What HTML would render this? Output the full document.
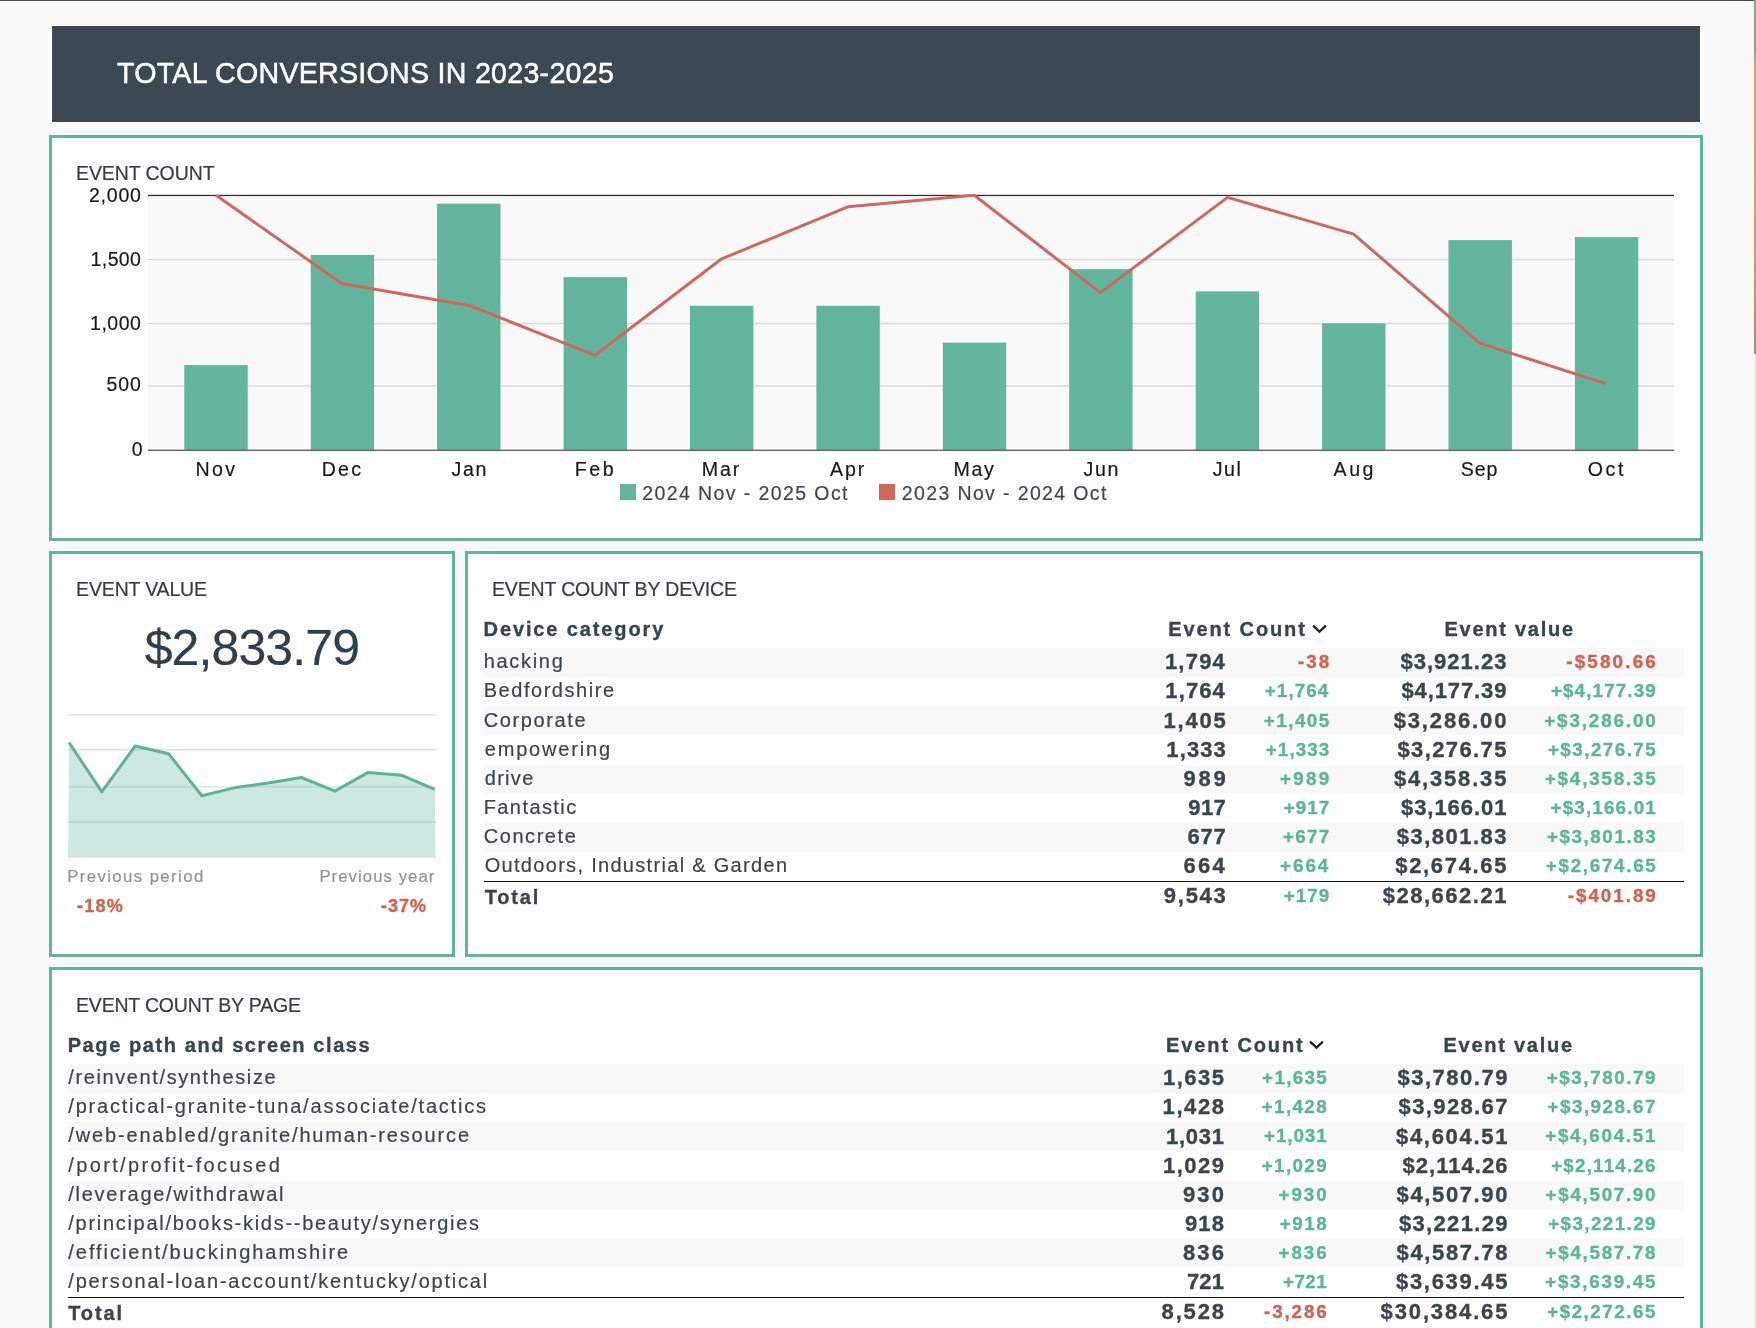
<!DOCTYPE html>
<html><head><meta charset="utf-8"><title>Total conversions dashboard</title>
<style>
html,body{margin:0;padding:0;}
body{width:1756px;height:1328px;overflow:hidden;background:#f9f9f9;position:relative;font-family:'Liberation Sans',sans-serif;}
.t{position:absolute;white-space:nowrap;}
#tx{position:absolute;left:0;top:0;width:1756px;height:1328px;will-change:transform;}
.box{position:absolute;box-sizing:border-box;border:3px solid #5db59a;background:#fff;box-shadow:0 0 0 1px #fff;}
.band{position:absolute;background:#f8f8f8;}
svg{position:absolute;left:0;top:0;}
</style></head><body>
<div style="position:absolute;left:0;top:0;width:1754px;height:1px;background:#3f4c56"></div>
<div style="position:absolute;left:1754px;top:0;width:2px;height:1328px;background:#efefef"></div>
<div style="position:absolute;left:1754px;top:0;width:2px;height:354px;background:linear-gradient(#86a868 0px,#86a868 50px,#c9a45e 60px,#bfa062 250px,#a8905e 354px)"></div>
<div style="position:absolute;left:52px;top:26px;width:1648px;height:96px;background:#3c4953;box-shadow:0 0 0 1px #fff"></div>
<div class="box" style="left:49px;top:135px;width:1654px;height:406px"></div>
<div class="box" style="left:49px;top:551px;width:406px;height:406px"></div>
<div class="box" style="left:465px;top:551px;width:1238px;height:406px"></div>
<div class="box" style="left:49px;top:967px;width:1654px;height:420px"></div>
<div class="band" style="left:484px;top:648.10px;width:1200px;height:28.5px"></div><div class="band" style="left:68px;top:1064.00px;width:1616px;height:28.5px"></div><div class="band" style="left:484px;top:706.40px;width:1200px;height:28.5px"></div><div class="band" style="left:68px;top:1122.30px;width:1616px;height:28.5px"></div><div class="band" style="left:484px;top:764.70px;width:1200px;height:28.5px"></div><div class="band" style="left:68px;top:1180.60px;width:1616px;height:28.5px"></div><div class="band" style="left:484px;top:823.00px;width:1200px;height:28.5px"></div><div class="band" style="left:68px;top:1238.90px;width:1616px;height:28.5px"></div><div style="position:absolute;left:484px;top:880.6px;width:1200px;height:1.4px;background:#111"></div><div style="position:absolute;left:68px;top:1296.7px;width:1616px;height:1.4px;background:#111"></div>
<svg width="1756" height="1328" viewBox="0 0 1756 1328">
<rect x="148" y="195" width="1526" height="255.5" fill="#f9f9f9"/><rect x="148" y="194.8" width="1526" height="1.3" fill="#333"/><rect x="148" y="258.9" width="1526" height="1.3" fill="#d6d6d6"/><rect x="148" y="322.9" width="1526" height="1.3" fill="#d6d6d6"/><rect x="148" y="385.3" width="1526" height="1.3" fill="#d6d6d6"/><rect x="184.3" y="365.1" width="63.4" height="85.1" fill="#63b69d"/><rect x="310.7" y="254.9" width="63.4" height="195.3" fill="#63b69d"/><rect x="437.1" y="203.7" width="63.4" height="246.5" fill="#63b69d"/><rect x="563.6" y="277.1" width="63.4" height="173.1" fill="#63b69d"/><rect x="690.0" y="305.8" width="63.4" height="144.4" fill="#63b69d"/><rect x="816.4" y="305.8" width="63.4" height="144.4" fill="#63b69d"/><rect x="942.8" y="342.6" width="63.4" height="107.6" fill="#63b69d"/><rect x="1069.2" y="269.2" width="63.4" height="181.0" fill="#63b69d"/><rect x="1195.7" y="291.4" width="63.4" height="158.8" fill="#63b69d"/><rect x="1322.1" y="323.4" width="63.4" height="126.8" fill="#63b69d"/><rect x="1448.5" y="240.1" width="63.4" height="210.1" fill="#63b69d"/><rect x="1574.9" y="237.1" width="63.4" height="213.1" fill="#63b69d"/><rect x="148" y="449.6" width="1526" height="1.4" fill="#666"/><polyline fill="none" stroke="#d0695a" stroke-width="3" stroke-linejoin="round" points="216,195.3 341.7,283.5 470.3,305.8 595,355.3 721,259.2 848.3,206.7 974.3,195.3 1100.3,292.6 1227.6,197.4 1353.6,234.1 1479.6,343.1 1605.6,383.6"/><rect x="620" y="484" width="16" height="16" fill="#63b69d"/><rect x="879" y="484" width="16" height="16" fill="#d0695a"/><rect x="68" y="714.1" width="368" height="1.3" fill="#dedede"/><rect x="68" y="749.1" width="368" height="1.3" fill="#dedede"/><rect x="68" y="786.3" width="368" height="1.3" fill="#dedede"/><rect x="68" y="821.3" width="368" height="1.3" fill="#dedede"/><path d="M68,857 L69.1,742.7 L101.8,791.8 L135.2,746 L168.6,753.7 L201.8,795.7 L235.1,787.6 L268.3,783.1 L301.5,777.5 L334.8,791.1 L368.2,772.4 L401.4,775.2 L434.8,789.4 L435.7,857 Z" fill="#5db59a" fill-opacity="0.31"/><rect x="68" y="856.3" width="368" height="1.4" fill="#dedede"/><polyline fill="none" stroke="#5cb597" stroke-width="3" stroke-linejoin="round" points="69.1,742.7 101.8,791.8 135.2,746 168.6,753.7 201.8,795.7 235.1,787.6 268.3,783.1 301.5,777.5 334.8,791.1 368.2,772.4 401.4,775.2 434.8,789.4"/>
<path d="M1313.1,625.6 l6.4,6.1 l6.4,-6.1" fill="none" stroke="#222" stroke-width="2.3"/><path d="M1310.1,1041.6 l6.4,6.1 l6.4,-6.1" fill="none" stroke="#222" stroke-width="2.3"/>
</svg>
<div id="tx">
<div class="t" style="left:117.00px;top:59.10px;font-size:28.6px;line-height:29px;letter-spacing:0.273px;color:#ffffff;-webkit-text-stroke:0.5px #ffffff">TOTAL CONVERSIONS IN 2023-2025</div>
<div class="t" style="left:76.00px;top:163.30px;font-size:19.5px;line-height:20px;letter-spacing:-0.084px;color:#2e3f4f;-webkit-text-stroke:0.2px #2e3f4f">EVENT COUNT</div>
<div class="t" style="left:88.90px;top:185.30px;font-size:19.5px;line-height:20px;letter-spacing:0.812px;color:#1a1a1a;-webkit-text-stroke:0.2px #1a1a1a">2,000</div>
<div class="t" style="left:90.60px;top:249.00px;font-size:19.5px;line-height:20px;letter-spacing:0.387px;color:#1a1a1a;-webkit-text-stroke:0.2px #1a1a1a">1,500</div>
<div class="t" style="left:90.00px;top:313.30px;font-size:19.5px;line-height:20px;letter-spacing:0.537px;color:#1a1a1a;-webkit-text-stroke:0.2px #1a1a1a">1,000</div>
<div class="t" style="left:106.40px;top:374.40px;font-size:19.5px;line-height:20px;letter-spacing:1.005px;color:#1a1a1a;-webkit-text-stroke:0.2px #1a1a1a">500</div>
<div class="t" style="left:131.70px;top:438.70px;font-size:19.5px;line-height:20px;letter-spacing:0.000px;color:#1a1a1a;-webkit-text-stroke:0.2px #1a1a1a">0</div>
<div class="t" style="left:195.40px;top:459.10px;font-size:19.6px;line-height:20px;letter-spacing:2.426px;color:#1a1a1a;-webkit-text-stroke:0.2px #1a1a1a">Nov</div>
<div class="t" style="left:321.70px;top:459.10px;font-size:19.6px;line-height:20px;letter-spacing:2.226px;color:#1a1a1a;-webkit-text-stroke:0.2px #1a1a1a">Dec</div>
<div class="t" style="left:451.40px;top:459.10px;font-size:19.6px;line-height:20px;letter-spacing:1.703px;color:#1a1a1a;-webkit-text-stroke:0.2px #1a1a1a">Jan</div>
<div class="t" style="left:574.70px;top:459.10px;font-size:19.6px;line-height:20px;letter-spacing:2.617px;color:#1a1a1a;-webkit-text-stroke:0.2px #1a1a1a">Feb</div>
<div class="t" style="left:701.80px;top:459.10px;font-size:19.6px;line-height:20px;letter-spacing:1.841px;color:#1a1a1a;-webkit-text-stroke:0.2px #1a1a1a">Mar</div>
<div class="t" style="left:829.90px;top:459.10px;font-size:19.6px;line-height:20px;letter-spacing:1.917px;color:#1a1a1a;-webkit-text-stroke:0.2px #1a1a1a">Apr</div>
<div class="t" style="left:953.40px;top:459.10px;font-size:19.6px;line-height:20px;letter-spacing:1.741px;color:#1a1a1a;-webkit-text-stroke:0.2px #1a1a1a">May</div>
<div class="t" style="left:1083.50px;top:459.10px;font-size:19.6px;line-height:20px;letter-spacing:1.653px;color:#1a1a1a;-webkit-text-stroke:0.2px #1a1a1a">Jun</div>
<div class="t" style="left:1212.70px;top:459.10px;font-size:19.6px;line-height:20px;letter-spacing:1.553px;color:#1a1a1a;-webkit-text-stroke:0.2px #1a1a1a">Jul</div>
<div class="t" style="left:1333.60px;top:459.10px;font-size:19.6px;line-height:20px;letter-spacing:2.517px;color:#1a1a1a;-webkit-text-stroke:0.2px #1a1a1a">Aug</div>
<div class="t" style="left:1460.70px;top:459.10px;font-size:19.6px;line-height:20px;letter-spacing:0.967px;color:#1a1a1a;-webkit-text-stroke:0.2px #1a1a1a">Sep</div>
<div class="t" style="left:1587.80px;top:459.10px;font-size:19.6px;line-height:20px;letter-spacing:2.531px;color:#1a1a1a;-webkit-text-stroke:0.2px #1a1a1a">Oct</div>
<div class="t" style="left:642.30px;top:483.00px;font-size:19.5px;line-height:20px;letter-spacing:1.404px;color:#3a4a56;-webkit-text-stroke:0.2px #3a4a56">2024 Nov - 2025 Oct</div>
<div class="t" style="left:901.80px;top:483.00px;font-size:19.5px;line-height:20px;letter-spacing:1.371px;color:#3a4a56;-webkit-text-stroke:0.2px #3a4a56">2023 Nov - 2024 Oct</div>
<div class="t" style="left:76.10px;top:578.90px;font-size:19.5px;line-height:20px;letter-spacing:-0.162px;color:#2e3f4f;-webkit-text-stroke:0.2px #2e3f4f">EVENT VALUE</div>
<div class="t" style="left:144.70px;top:622.60px;font-size:50px;line-height:50px;letter-spacing:-0.891px;color:#2e3f4f;-webkit-text-stroke:0.2px #2e3f4f">$2,833.79</div>
<div class="t" style="left:67.20px;top:868.00px;font-size:16.8px;line-height:17px;letter-spacing:1.388px;color:#8c959d;-webkit-text-stroke:0.2px #8c959d">Previous period</div>
<div class="t" style="left:319.40px;top:868.00px;font-size:16.8px;line-height:17px;letter-spacing:1.033px;color:#8c959d;-webkit-text-stroke:0.2px #8c959d">Previous year</div>
<div class="t" style="left:76.90px;top:897.00px;font-size:18px;line-height:18px;letter-spacing:1.295px;color:#d3624e;font-weight:700;-webkit-text-stroke:0.35px #d3624e">-18%</div>
<div class="t" style="left:381.00px;top:897.00px;font-size:18px;line-height:18px;letter-spacing:0.961px;color:#d3624e;font-weight:700;-webkit-text-stroke:0.35px #d3624e">-37%</div>
<div class="t" style="left:492.00px;top:579.30px;font-size:19.5px;line-height:20px;letter-spacing:-0.155px;color:#2e3f4f;-webkit-text-stroke:0.2px #2e3f4f">EVENT COUNT BY DEVICE</div>
<div class="t" style="left:483.60px;top:618.70px;font-size:20px;line-height:20px;letter-spacing:1.879px;color:#37474f;font-weight:700;-webkit-text-stroke:0.35px #37474f">Device category</div>
<div class="t" style="left:1168.30px;top:618.50px;font-size:20px;line-height:20px;letter-spacing:1.879px;color:#37474f;font-weight:700;-webkit-text-stroke:0.35px #37474f">Event Count</div>
<div class="t" style="left:1444.50px;top:618.50px;font-size:20px;line-height:20px;letter-spacing:1.746px;color:#37474f;font-weight:700;-webkit-text-stroke:0.35px #37474f">Event value</div>
<div class="t" style="left:483.70px;top:651.20px;font-size:20px;line-height:20px;letter-spacing:1.698px;color:#37474f;-webkit-text-stroke:0.2px #37474f">hacking</div>
<div class="t" style="left:1164.90px;top:651.30px;font-size:22px;line-height:22px;letter-spacing:1.220px;color:#37474f;font-weight:700;-webkit-text-stroke:0.35px #37474f">1,794</div>
<div class="t" style="left:1297.90px;top:652.20px;font-size:18.8px;line-height:19px;letter-spacing:2.100px;color:#d3624e;font-weight:700;-webkit-text-stroke:0.35px #d3624e">-38</div>
<div class="t" style="left:1400.40px;top:651.30px;font-size:22px;line-height:22px;letter-spacing:1.020px;color:#37474f;font-weight:700;-webkit-text-stroke:0.35px #37474f">$3,921.23</div>
<div class="t" style="left:1566.20px;top:652.20px;font-size:18.8px;line-height:19px;letter-spacing:2.200px;color:#d3624e;font-weight:700;-webkit-text-stroke:0.35px #d3624e">-$580.66</div>
<div class="t" style="left:483.70px;top:680.35px;font-size:20px;line-height:20px;letter-spacing:1.539px;color:#37474f;-webkit-text-stroke:0.2px #37474f">Bedfordshire</div>
<div class="t" style="left:1165.30px;top:680.45px;font-size:22px;line-height:22px;letter-spacing:1.120px;color:#37474f;font-weight:700;-webkit-text-stroke:0.35px #37474f">1,764</div>
<div class="t" style="left:1264.80px;top:681.35px;font-size:18.8px;line-height:19px;letter-spacing:1.096px;color:#5cb698;font-weight:700;-webkit-text-stroke:0.35px #5cb698">+1,764</div>
<div class="t" style="left:1401.40px;top:680.45px;font-size:22px;line-height:22px;letter-spacing:0.895px;color:#37474f;font-weight:700;-webkit-text-stroke:0.35px #37474f">$4,177.39</div>
<div class="t" style="left:1550.90px;top:681.35px;font-size:18.8px;line-height:19px;letter-spacing:1.147px;color:#5cb698;font-weight:700;-webkit-text-stroke:0.35px #5cb698">+$4,177.39</div>
<div class="t" style="left:483.70px;top:709.50px;font-size:20px;line-height:20px;letter-spacing:1.611px;color:#37474f;-webkit-text-stroke:0.2px #37474f">Corporate</div>
<div class="t" style="left:1163.60px;top:709.60px;font-size:22px;line-height:22px;letter-spacing:1.795px;color:#37474f;font-weight:700;-webkit-text-stroke:0.35px #37474f">1,405</div>
<div class="t" style="left:1263.80px;top:710.50px;font-size:18.8px;line-height:19px;letter-spacing:1.496px;color:#5cb698;font-weight:700;-webkit-text-stroke:0.35px #5cb698">+1,405</div>
<div class="t" style="left:1393.70px;top:709.60px;font-size:22px;line-height:22px;letter-spacing:1.858px;color:#37474f;font-weight:700;-webkit-text-stroke:0.35px #37474f">$3,286.00</div>
<div class="t" style="left:1544.20px;top:710.50px;font-size:18.8px;line-height:19px;letter-spacing:1.892px;color:#5cb698;font-weight:700;-webkit-text-stroke:0.35px #5cb698">+$3,286.00</div>
<div class="t" style="left:484.70px;top:738.65px;font-size:20px;line-height:20px;letter-spacing:1.831px;color:#37474f;-webkit-text-stroke:0.2px #37474f">empowering</div>
<div class="t" style="left:1166.30px;top:738.75px;font-size:22px;line-height:22px;letter-spacing:1.120px;color:#37474f;font-weight:700;-webkit-text-stroke:0.35px #37474f">1,333</div>
<div class="t" style="left:1265.80px;top:739.65px;font-size:18.8px;line-height:19px;letter-spacing:1.096px;color:#5cb698;font-weight:700;-webkit-text-stroke:0.35px #5cb698">+1,333</div>
<div class="t" style="left:1397.40px;top:738.75px;font-size:22px;line-height:22px;letter-spacing:1.395px;color:#37474f;font-weight:700;-webkit-text-stroke:0.35px #37474f">$3,276.75</div>
<div class="t" style="left:1547.90px;top:739.65px;font-size:18.8px;line-height:19px;letter-spacing:1.481px;color:#5cb698;font-weight:700;-webkit-text-stroke:0.35px #5cb698">+$3,276.75</div>
<div class="t" style="left:484.70px;top:767.80px;font-size:20px;line-height:20px;letter-spacing:1.318px;color:#37474f;-webkit-text-stroke:0.2px #37474f">drive</div>
<div class="t" style="left:1183.50px;top:767.90px;font-size:22px;line-height:22px;letter-spacing:2.815px;color:#37474f;font-weight:700;-webkit-text-stroke:0.35px #37474f">989</div>
<div class="t" style="left:1280.10px;top:768.80px;font-size:18.8px;line-height:19px;letter-spacing:2.281px;color:#5cb698;font-weight:700;-webkit-text-stroke:0.35px #5cb698">+989</div>
<div class="t" style="left:1393.90px;top:767.90px;font-size:22px;line-height:22px;letter-spacing:1.833px;color:#37474f;font-weight:700;-webkit-text-stroke:0.35px #37474f">$4,358.35</div>
<div class="t" style="left:1544.80px;top:768.80px;font-size:18.8px;line-height:19px;letter-spacing:1.825px;color:#5cb698;font-weight:700;-webkit-text-stroke:0.35px #5cb698">+$4,358.35</div>
<div class="t" style="left:483.70px;top:796.95px;font-size:20px;line-height:20px;letter-spacing:1.420px;color:#37474f;-webkit-text-stroke:0.2px #37474f">Fantastic</div>
<div class="t" style="left:1188.20px;top:797.05px;font-size:22px;line-height:22px;letter-spacing:0.465px;color:#37474f;font-weight:700;-webkit-text-stroke:0.35px #37474f">917</div>
<div class="t" style="left:1283.70px;top:797.95px;font-size:18.8px;line-height:19px;letter-spacing:1.081px;color:#5cb698;font-weight:700;-webkit-text-stroke:0.35px #5cb698">+917</div>
<div class="t" style="left:1401.00px;top:797.05px;font-size:22px;line-height:22px;letter-spacing:0.945px;color:#37474f;font-weight:700;-webkit-text-stroke:0.35px #37474f">$3,166.01</div>
<div class="t" style="left:1550.50px;top:797.95px;font-size:18.8px;line-height:19px;letter-spacing:1.192px;color:#5cb698;font-weight:700;-webkit-text-stroke:0.35px #5cb698">+$3,166.01</div>
<div class="t" style="left:483.70px;top:826.10px;font-size:20px;line-height:20px;letter-spacing:1.567px;color:#37474f;-webkit-text-stroke:0.2px #37474f">Concrete</div>
<div class="t" style="left:1187.60px;top:826.20px;font-size:22px;line-height:22px;letter-spacing:0.765px;color:#37474f;font-weight:700;-webkit-text-stroke:0.35px #37474f">677</div>
<div class="t" style="left:1283.10px;top:827.10px;font-size:18.8px;line-height:19px;letter-spacing:1.281px;color:#5cb698;font-weight:700;-webkit-text-stroke:0.35px #5cb698">+677</div>
<div class="t" style="left:1396.80px;top:826.20px;font-size:22px;line-height:22px;letter-spacing:1.470px;color:#37474f;font-weight:700;-webkit-text-stroke:0.35px #37474f">$3,801.83</div>
<div class="t" style="left:1546.90px;top:827.10px;font-size:18.8px;line-height:19px;letter-spacing:1.592px;color:#5cb698;font-weight:700;-webkit-text-stroke:0.35px #5cb698">+$3,801.83</div>
<div class="t" style="left:484.70px;top:855.25px;font-size:20px;line-height:20px;letter-spacing:1.308px;color:#37474f;-webkit-text-stroke:0.2px #37474f">Outdoors, Industrial &amp; Garden</div>
<div class="t" style="left:1183.50px;top:855.35px;font-size:22px;line-height:22px;letter-spacing:2.315px;color:#37474f;font-weight:700;-webkit-text-stroke:0.35px #37474f">664</div>
<div class="t" style="left:1280.10px;top:856.25px;font-size:18.8px;line-height:19px;letter-spacing:1.947px;color:#5cb698;font-weight:700;-webkit-text-stroke:0.35px #5cb698">+664</div>
<div class="t" style="left:1395.30px;top:855.35px;font-size:22px;line-height:22px;letter-spacing:1.658px;color:#37474f;font-weight:700;-webkit-text-stroke:0.35px #37474f">$2,674.65</div>
<div class="t" style="left:1545.80px;top:856.25px;font-size:18.8px;line-height:19px;letter-spacing:1.714px;color:#5cb698;font-weight:700;-webkit-text-stroke:0.35px #5cb698">+$2,674.65</div>
<div class="t" style="left:484.70px;top:886.60px;font-size:20px;line-height:20px;letter-spacing:1.842px;color:#37474f;font-weight:700;-webkit-text-stroke:0.35px #37474f">Total</div>
<div class="t" style="left:1163.80px;top:885.10px;font-size:22px;line-height:22px;letter-spacing:1.745px;color:#37474f;font-weight:700;-webkit-text-stroke:0.35px #37474f">9,543</div>
<div class="t" style="left:1283.70px;top:886.20px;font-size:18.8px;line-height:19px;letter-spacing:1.081px;color:#5cb698;font-weight:700;-webkit-text-stroke:0.35px #5cb698">+179</div>
<div class="t" style="left:1382.70px;top:885.10px;font-size:22px;line-height:22px;letter-spacing:1.514px;color:#37474f;font-weight:700;-webkit-text-stroke:0.35px #37474f">$28,662.21</div>
<div class="t" style="left:1567.80px;top:886.20px;font-size:18.8px;line-height:19px;letter-spacing:1.972px;color:#d3624e;font-weight:700;-webkit-text-stroke:0.35px #d3624e">-$401.89</div>
<div class="t" style="left:76.00px;top:995.20px;font-size:19.5px;line-height:20px;letter-spacing:-0.185px;color:#2e3f4f;-webkit-text-stroke:0.2px #2e3f4f">EVENT COUNT BY PAGE</div>
<div class="t" style="left:67.70px;top:1035.20px;font-size:20px;line-height:20px;letter-spacing:1.587px;color:#37474f;font-weight:700;-webkit-text-stroke:0.35px #37474f">Page path and screen class</div>
<div class="t" style="left:1166.10px;top:1034.50px;font-size:20px;line-height:20px;letter-spacing:1.879px;color:#37474f;font-weight:700;-webkit-text-stroke:0.35px #37474f">Event Count</div>
<div class="t" style="left:1443.50px;top:1034.50px;font-size:20px;line-height:20px;letter-spacing:1.746px;color:#37474f;font-weight:700;-webkit-text-stroke:0.35px #37474f">Event value</div>
<div class="t" style="left:68.30px;top:1067.10px;font-size:20px;line-height:20px;letter-spacing:1.609px;color:#37474f;-webkit-text-stroke:0.2px #37474f">/reinvent/synthesize</div>
<div class="t" style="left:1163.00px;top:1067.20px;font-size:22px;line-height:22px;letter-spacing:1.470px;color:#37474f;font-weight:700;-webkit-text-stroke:0.35px #37474f">1,635</div>
<div class="t" style="left:1262.10px;top:1068.10px;font-size:18.8px;line-height:19px;letter-spacing:1.316px;color:#5cb698;font-weight:700;-webkit-text-stroke:0.35px #5cb698">+1,635</div>
<div class="t" style="left:1397.40px;top:1067.20px;font-size:22px;line-height:22px;letter-spacing:1.520px;color:#37474f;font-weight:700;-webkit-text-stroke:0.35px #37474f">$3,780.79</div>
<div class="t" style="left:1546.80px;top:1068.10px;font-size:18.8px;line-height:19px;letter-spacing:1.569px;color:#5cb698;font-weight:700;-webkit-text-stroke:0.35px #5cb698">+$3,780.79</div>
<div class="t" style="left:68.30px;top:1096.25px;font-size:20px;line-height:20px;letter-spacing:1.800px;color:#37474f;-webkit-text-stroke:0.2px #37474f">/practical-granite-tuna/associate/tactics</div>
<div class="t" style="left:1162.60px;top:1096.35px;font-size:22px;line-height:22px;letter-spacing:1.570px;color:#37474f;font-weight:700;-webkit-text-stroke:0.35px #37474f">1,428</div>
<div class="t" style="left:1261.70px;top:1097.25px;font-size:18.8px;line-height:19px;letter-spacing:1.396px;color:#5cb698;font-weight:700;-webkit-text-stroke:0.35px #5cb698">+1,428</div>
<div class="t" style="left:1398.60px;top:1096.35px;font-size:22px;line-height:22px;letter-spacing:1.370px;color:#37474f;font-weight:700;-webkit-text-stroke:0.35px #37474f">$3,928.67</div>
<div class="t" style="left:1547.60px;top:1097.25px;font-size:18.8px;line-height:19px;letter-spacing:1.481px;color:#5cb698;font-weight:700;-webkit-text-stroke:0.35px #5cb698">+$3,928.67</div>
<div class="t" style="left:68.30px;top:1125.40px;font-size:20px;line-height:20px;letter-spacing:1.845px;color:#37474f;-webkit-text-stroke:0.2px #37474f">/web-enabled/granite/human-resource</div>
<div class="t" style="left:1166.00px;top:1125.50px;font-size:22px;line-height:22px;letter-spacing:0.720px;color:#37474f;font-weight:700;-webkit-text-stroke:0.35px #37474f">1,031</div>
<div class="t" style="left:1264.10px;top:1126.40px;font-size:18.8px;line-height:19px;letter-spacing:0.916px;color:#5cb698;font-weight:700;-webkit-text-stroke:0.35px #5cb698">+1,031</div>
<div class="t" style="left:1396.00px;top:1125.50px;font-size:22px;line-height:22px;letter-spacing:1.695px;color:#37474f;font-weight:700;-webkit-text-stroke:0.35px #37474f">$4,604.51</div>
<div class="t" style="left:1545.20px;top:1126.40px;font-size:18.8px;line-height:19px;letter-spacing:1.747px;color:#5cb698;font-weight:700;-webkit-text-stroke:0.35px #5cb698">+$4,604.51</div>
<div class="t" style="left:68.30px;top:1154.55px;font-size:20px;line-height:20px;letter-spacing:2.357px;color:#37474f;-webkit-text-stroke:0.2px #37474f">/port/profit-focused</div>
<div class="t" style="left:1163.00px;top:1154.65px;font-size:22px;line-height:22px;letter-spacing:1.470px;color:#37474f;font-weight:700;-webkit-text-stroke:0.35px #37474f">1,029</div>
<div class="t" style="left:1261.70px;top:1155.55px;font-size:18.8px;line-height:19px;letter-spacing:1.396px;color:#5cb698;font-weight:700;-webkit-text-stroke:0.35px #5cb698">+1,029</div>
<div class="t" style="left:1402.60px;top:1154.65px;font-size:22px;line-height:22px;letter-spacing:1.022px;color:#37474f;font-weight:700;-webkit-text-stroke:0.35px #37474f">$2,114.26</div>
<div class="t" style="left:1551.20px;top:1155.55px;font-size:18.8px;line-height:19px;letter-spacing:1.196px;color:#5cb698;font-weight:700;-webkit-text-stroke:0.35px #5cb698">+$2,114.26</div>
<div class="t" style="left:68.30px;top:1183.70px;font-size:20px;line-height:20px;letter-spacing:1.728px;color:#37474f;-webkit-text-stroke:0.2px #37474f">/leverage/withdrawal</div>
<div class="t" style="left:1183.00px;top:1183.80px;font-size:22px;line-height:22px;letter-spacing:2.115px;color:#37474f;font-weight:700;-webkit-text-stroke:0.35px #37474f">930</div>
<div class="t" style="left:1278.50px;top:1184.70px;font-size:18.8px;line-height:19px;letter-spacing:1.947px;color:#5cb698;font-weight:700;-webkit-text-stroke:0.35px #5cb698">+930</div>
<div class="t" style="left:1396.60px;top:1183.80px;font-size:22px;line-height:22px;letter-spacing:1.620px;color:#37474f;font-weight:700;-webkit-text-stroke:0.35px #37474f">$4,507.90</div>
<div class="t" style="left:1545.60px;top:1184.70px;font-size:18.8px;line-height:19px;letter-spacing:1.703px;color:#5cb698;font-weight:700;-webkit-text-stroke:0.35px #5cb698">+$4,507.90</div>
<div class="t" style="left:68.30px;top:1212.85px;font-size:20px;line-height:20px;letter-spacing:1.710px;color:#37474f;-webkit-text-stroke:0.2px #37474f">/principal/books-kids--beauty/synergies</div>
<div class="t" style="left:1185.00px;top:1212.95px;font-size:22px;line-height:22px;letter-spacing:1.115px;color:#37474f;font-weight:700;-webkit-text-stroke:0.35px #37474f">918</div>
<div class="t" style="left:1279.70px;top:1213.85px;font-size:18.8px;line-height:19px;letter-spacing:1.547px;color:#5cb698;font-weight:700;-webkit-text-stroke:0.35px #5cb698">+918</div>
<div class="t" style="left:1399.00px;top:1212.95px;font-size:22px;line-height:22px;letter-spacing:1.320px;color:#37474f;font-weight:700;-webkit-text-stroke:0.35px #37474f">$3,221.29</div>
<div class="t" style="left:1548.20px;top:1213.85px;font-size:18.8px;line-height:19px;letter-spacing:1.414px;color:#5cb698;font-weight:700;-webkit-text-stroke:0.35px #5cb698">+$3,221.29</div>
<div class="t" style="left:68.30px;top:1242.00px;font-size:20px;line-height:20px;letter-spacing:1.962px;color:#37474f;-webkit-text-stroke:0.2px #37474f">/efficient/buckinghamshire</div>
<div class="t" style="left:1183.00px;top:1242.10px;font-size:22px;line-height:22px;letter-spacing:2.115px;color:#37474f;font-weight:700;-webkit-text-stroke:0.35px #37474f">836</div>
<div class="t" style="left:1278.50px;top:1243.00px;font-size:18.8px;line-height:19px;letter-spacing:1.947px;color:#5cb698;font-weight:700;-webkit-text-stroke:0.35px #5cb698">+836</div>
<div class="t" style="left:1396.60px;top:1242.10px;font-size:22px;line-height:22px;letter-spacing:1.620px;color:#37474f;font-weight:700;-webkit-text-stroke:0.35px #37474f">$4,587.78</div>
<div class="t" style="left:1545.60px;top:1243.00px;font-size:18.8px;line-height:19px;letter-spacing:1.703px;color:#5cb698;font-weight:700;-webkit-text-stroke:0.35px #5cb698">+$4,587.78</div>
<div class="t" style="left:68.30px;top:1271.15px;font-size:20px;line-height:20px;letter-spacing:1.777px;color:#37474f;-webkit-text-stroke:0.2px #37474f">/personal-loan-account/kentucky/optical</div>
<div class="t" style="left:1187.00px;top:1271.25px;font-size:22px;line-height:22px;letter-spacing:0.115px;color:#37474f;font-weight:700;-webkit-text-stroke:0.35px #37474f">721</div>
<div class="t" style="left:1283.10px;top:1272.15px;font-size:18.8px;line-height:19px;letter-spacing:0.414px;color:#5cb698;font-weight:700;-webkit-text-stroke:0.35px #5cb698">+721</div>
<div class="t" style="left:1396.00px;top:1271.25px;font-size:22px;line-height:22px;letter-spacing:1.695px;color:#37474f;font-weight:700;-webkit-text-stroke:0.35px #37474f">$3,639.45</div>
<div class="t" style="left:1545.20px;top:1272.15px;font-size:18.8px;line-height:19px;letter-spacing:1.747px;color:#5cb698;font-weight:700;-webkit-text-stroke:0.35px #5cb698">+$3,639.45</div>
<div class="t" style="left:68.30px;top:1302.70px;font-size:20px;line-height:20px;letter-spacing:1.842px;color:#37474f;font-weight:700;-webkit-text-stroke:0.35px #37474f">Total</div>
<div class="t" style="left:1161.60px;top:1301.20px;font-size:22px;line-height:22px;letter-spacing:1.820px;color:#37474f;font-weight:700;-webkit-text-stroke:0.35px #37474f">8,528</div>
<div class="t" style="left:1264.10px;top:1302.30px;font-size:18.8px;line-height:19px;letter-spacing:1.858px;color:#d3624e;font-weight:700;-webkit-text-stroke:0.35px #d3624e">-3,286</div>
<div class="t" style="left:1380.60px;top:1301.20px;font-size:22px;line-height:22px;letter-spacing:1.859px;color:#37474f;font-weight:700;-webkit-text-stroke:0.35px #37474f">$30,384.65</div>
<div class="t" style="left:1547.20px;top:1302.30px;font-size:18.8px;line-height:19px;letter-spacing:1.525px;color:#5cb698;font-weight:700;-webkit-text-stroke:0.35px #5cb698">+$2,272.65</div>
</div>
</body></html>
